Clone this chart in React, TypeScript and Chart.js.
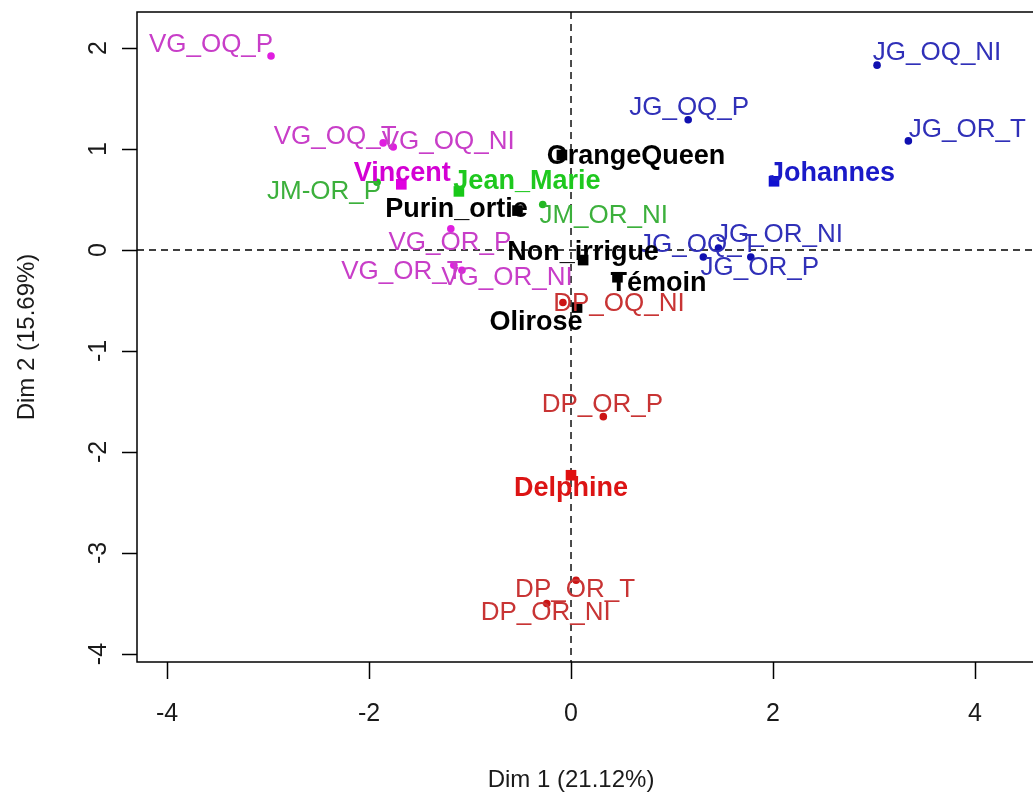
import React, { useEffect, useRef } from "react";
import { Chart, registerables } from "chart.js";

Chart.register(...registerables);

// Individuals (Dim 1, Dim 2) by grower
const vgLabels = ["VG_OQ_P", "VG_OQ_T", "VG_OQ_NI", "VG_OR_P", "VG_OR_T", "VG_OR_NI"];
const vgDim1 = [-2.97, -1.86, -1.76, -1.19, -1.16, -1.08];
const vgDim2 = [1.92, 1.06, 1.02, 0.21, -0.15, -0.2];

const jmLabels = ["JM-OR_P", "JM_OR_NI"];
const jmDim1 = [-1.92, -0.28];
const jmDim2 = [0.67, 0.45];

const jgLabels = ["JG_OQ_NI", "JG_OQ_P", "JG_OR_T", "JG_OR_NI", "JG_OQ_T", "JG_OR_P"];
const jgDim1 = [3.03, 1.16, 3.34, 1.46, 1.31, 1.78];
const jgDim2 = [1.83, 1.29, 1.08, 0.02, -0.07, -0.07];

const dpLabels = ["DP_OQ_NI", "DP_OR_P", "DP_OR_T", "DP_OR_NI"];
const dpDim1 = [-0.08, 0.32, 0.05, -0.24];
const dpDim2 = [-0.52, -1.65, -3.27, -3.5];

// Grower centres
const growerLabels = ["Vincent", "Jean_Marie", "Johannes", "Delphine"];
const growerDim1 = [-1.68, -1.11, 2.01, 0.0];
const growerDim2 = [0.65, 0.58, 0.68, -2.23];

// Supplementary modalities
const modLabels = ["OrangeQueen", "Purin_ortie", "Non_irrigue", "Témoin", "Olirose"];
const modDim1 = [-0.09, -0.53, 0.12, 0.46, 0.06];
const modDim2 = [0.94, 0.39, -0.1, -0.27, -0.57];

const xTicks = [-4, -2, 0, 2, 4];
const yTicks = [-4, -3, -2, -1, 0, 1, 2];
const xTitle = "Dim 1 (21.12%)";
const yTitle = "Dim 2 (15.69%)";

// Label placement relative to each mark (pixels), avoiding overlaps
const labelShift: Record<string, [number, number]> = {
  VG_OQ_P: [-60, -11],
  VG_OQ_T: [-48, -6],
  VG_OQ_NI: [55, -5],
  VG_OR_P: [-1, 14],
  VG_OR_T: [-52, 7],
  VG_OR_NI: [45, 8],
  Vincent: [1, -11],
  "JM-OR_P": [-53, 10],
  Jean_Marie: [68, -10],
  JM_OR_NI: [61, 11],
  OrangeQueen: [74, 2],
  Purin_ortie: [-61, -1],
  Non_irrigue: [0, -8],
  "Témoin": [41, 6],
  Olirose: [-41, 15],
  JG_OQ_NI: [60, -12],
  JG_OQ_P: [1, -12],
  JG_OR_T: [59, -11],
  Johannes: [58, -8],
  JG_OR_NI: [61, -13],
  JG_OQ_T: [-5, -12],
  JG_OR_P: [9, 11],
  DP_OQ_NI: [56, 1],
  DP_OR_P: [-1, -12],
  Delphine: [0, 13],
  DP_OR_T: [-1, 10],
  DP_OR_NI: [-1, 9],
};

const FONT = '"Liberation Sans", Arial, sans-serif';

const pts = (names: string[], d1: number[], d2: number[]) =>
  names.map((n, i) => ({ x: d1[i], y: d2[i], name: n }));

type Series = {
  data: { x: number; y: number; name: string }[];
  mark: string;
  text: string;
  bold: boolean;
  square: boolean;
};

const growerPts = pts(growerLabels, growerDim1, growerDim2);

const series: Series[] = [
  { data: pts(vgLabels, vgDim1, vgDim2), mark: "#e01ee0", text: "#c83ec8", bold: false, square: false },
  { data: pts(jmLabels, jmDim1, jmDim2), mark: "#22b822", text: "#3cb03c", bold: false, square: false },
  { data: pts(jgLabels, jgDim1, jgDim2), mark: "#1010b0", text: "#3030b8", bold: false, square: false },
  { data: pts(dpLabels, dpDim1, dpDim2), mark: "#cc1414", text: "#c83434", bold: false, square: false },
  { data: pts(modLabels, modDim1, modDim2), mark: "#000000", text: "#000000", bold: true, square: true },
  { data: [growerPts[0]], mark: "#e000e0", text: "#d400d4", bold: true, square: true },
  { data: [growerPts[1]], mark: "#18c818", text: "#1ec81e", bold: true, square: true },
  { data: [growerPts[2]], mark: "#1010d0", text: "#1a1ac8", bold: true, square: true },
  { data: [growerPts[3]], mark: "#e01010", text: "#dc1414", bold: true, square: true },
];

const decor = {
  id: "decor",
  beforeDatasetsDraw(chart: any) {
    const { ctx, chartArea, scales } = chart;
    const { left, top, right, bottom } = chartArea;
    const x0 = scales.x.getPixelForValue(0);
    const y0 = scales.y.getPixelForValue(0);
    ctx.save();
    ctx.strokeStyle = "#000";
    ctx.lineWidth = 1.4;
    ctx.setLineDash([7, 5]);
    ctx.beginPath();
    ctx.moveTo(x0, top);
    ctx.lineTo(x0, bottom);
    ctx.moveTo(left, y0);
    ctx.lineTo(right, y0);
    ctx.stroke();
    ctx.restore();
  },
  afterDatasetsDraw(chart: any) {
    const { ctx, scales } = chart;
    ctx.save();
    ctx.textAlign = "center";
    ctx.textBaseline = "middle";
    chart.data.datasets.forEach((ds: any) => {
      ctx.fillStyle = ds.textColor;
      ctx.font = `${ds.bold ? "bold 27px" : "26px"} ${FONT}`;
      ds.data.forEach((p: any) => {
        const s = labelShift[p.name] || [0, -12];
        const px = scales.x.getPixelForValue(p.x) + s[0];
        const py = scales.y.getPixelForValue(p.y) + s[1];
        ctx.fillText(p.name, px, py);
      });
    });
    ctx.restore();
  },
  afterDraw(chart: any) {
    const { ctx, chartArea, scales } = chart;
    const { left, top, right, bottom } = chartArea;
    ctx.save();
    ctx.strokeStyle = "#000";
    ctx.lineWidth = 1.5;
    ctx.setLineDash([]);
    ctx.strokeRect(left, top, right - left + 20, bottom - top);

    ctx.fillStyle = "#1a1a1a";
    ctx.font = `25px ${FONT}`;
    ctx.textAlign = "center";
    ctx.textBaseline = "middle";

    ctx.beginPath();
    xTicks.forEach((v) => {
      const px = Math.round(scales.x.getPixelForValue(v)) + 0.5;
      ctx.moveTo(px, bottom);
      ctx.lineTo(px, bottom + 17);
    });
    yTicks.forEach((v) => {
      const py = Math.round(scales.y.getPixelForValue(v)) + 0.5;
      ctx.moveTo(left, py);
      ctx.lineTo(left - 15, py);
    });
    ctx.stroke();

    xTicks.forEach((v) => {
      ctx.fillText(String(v), scales.x.getPixelForValue(v), bottom + 52);
    });
    yTicks.forEach((v) => {
      ctx.save();
      ctx.translate(left - 38, scales.y.getPixelForValue(v));
      ctx.rotate(-Math.PI / 2);
      ctx.fillText(String(v), 0, 0);
      ctx.restore();
    });

    ctx.font = `24px ${FONT}`;
    ctx.fillText(xTitle, scales.x.getPixelForValue(0), bottom + 118);
    ctx.save();
    ctx.translate(left - 110, (top + bottom) / 2);
    ctx.rotate(-Math.PI / 2);
    ctx.fillText(yTitle, 0, 0);
    ctx.restore();
    ctx.restore();
  },
};

export default function App() {
  const canvasRef = useRef<HTMLCanvasElement | null>(null);

  useEffect(() => {
    const canvas = canvasRef.current;
    if (!canvas) return;
    const chart = new Chart(canvas, {
      type: "scatter",
      data: {
        datasets: series.map((s) => ({
          data: s.data,
          backgroundColor: s.mark,
          borderColor: s.mark,
          borderWidth: 0,
          pointStyle: s.square ? "rect" : "circle",
          pointRadius: s.square ? 7.5 : 3.8,
          textColor: s.text,
          bold: s.bold,
        })) as any,
      },
      options: {
        responsive: false,
        animation: false,
        devicePixelRatio: 1,
        layout: { autoPadding: false, padding: { left: 137, top: 12, right: 0, bottom: 134 } },
        plugins: { legend: { display: false }, tooltip: { enabled: false } },
        scales: {
          x: { type: "linear", display: false, min: -4.297, max: 4.574 },
          y: { type: "linear", display: false, min: -4.079, max: 2.356 },
        },
      },
      plugins: [decor],
    });
    return () => chart.destroy();
  }, []);

  return (
    <div style={{ position: "absolute", left: 0, top: 0, width: 1033, height: 796, background: "#fff" }}>
      <canvas ref={canvasRef} width={1033} height={796} />
    </div>
  );
}
